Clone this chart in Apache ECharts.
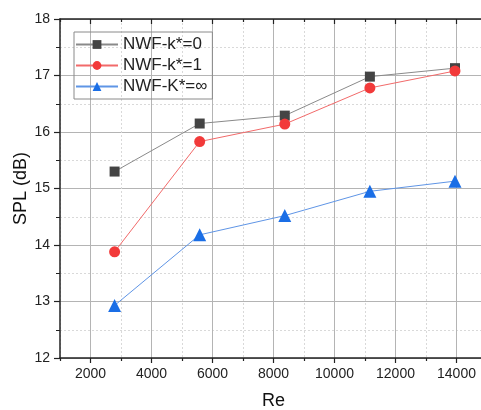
<!DOCTYPE html>
<html><head><meta charset="utf-8">
<script src="https://cdn.jsdelivr.net/npm/echarts@6/dist/echarts.min.js"></script>
<style>html,body{margin:0;padding:0;background:#fff}#c{width:481px;height:410px}</style>
</head><body><div id="c"></div>
<script>
const re = [2790, 5580, 8370, 11160, 13950];
const k0 = [15.30, 16.15, 16.29, 16.98, 17.13];
const k1 = [13.88, 15.83, 16.14, 16.78, 17.08];
const kInf = [12.93, 14.18, 14.52, 14.95, 15.13];
const names = ['NWF-k*=0', 'NWF-k*=1', 'NWF-K*=∞'];
const xTicks = [2000, 4000, 6000, 8000, 10000, 12000, 14000];
const xMinorTicks = [1000, 3000, 5000, 7000, 9000, 11000, 13000, 15000];
const xMin = 1000, xMax = 15000;
const yMin = 12, yMax = 18, yStep = 1;

const pair = (ys) => re.map((x, i) => [x, ys[i]]);
const font = 'Liberation Sans, Arial, sans-serif';
const chart = echarts.init(document.getElementById('c'));
const axisLine = { show: true, lineStyle: { color: '#222', width: 1.5 } };
const splitLine = { show: true, lineStyle: { color: '#b4b4b4', width: 1 } };
const minorLineStyle = { color: '#d9d9d9', width: 1, type: [2, 2] };
const tickStyle = { color: '#222', width: 1.2 };
chart.setOption({
  animation: false,
  backgroundColor: '#fff',
  grid: { left: 60, top: 19, width: 427, height: 339, containLabel: false, outerBoundsMode: 'none' },
  legend: {
    left: 74, top: 32, orient: 'vertical',
    data: names,
    itemWidth: 42, itemHeight: 11, itemGap: 4,
    borderColor: '#8a8a8a', borderWidth: 1, padding: [4, 5, 4, 1],
    textStyle: { fontFamily: font, fontSize: 17, color: '#222' }
  },
  xAxis: [{
    type: 'value', min: xMin, max: xMax, interval: 1000,
    name: 'Re', nameLocation: 'middle', nameGap: 34, nameMoveOverlap: false,
    nameTextStyle: { fontFamily: font, fontSize: 18, color: '#111' },
    axisLine: axisLine,
    axisTick: { show: true, inside: false, length: 5, lineStyle: tickStyle, customValues: xTicks },
    axisLabel: { fontFamily: font, fontSize: 14, color: '#222', margin: 9, customValues: xTicks,
      formatter: v => String(v) },
    splitLine: splitLine
  }, {
    type: 'value', min: xMin, max: xMax, interval: 1000, position: 'bottom',
    axisLine: { show: false },
    axisTick: { show: true, inside: false, length: 3, lineStyle: tickStyle, customValues: xMinorTicks },
    axisLabel: { show: false },
    splitLine: { show: true, lineStyle: minorLineStyle }
  }, {
    type: 'value', position: 'top', min: xMin, max: xMax, interval: 1000,
    axisLine: axisLine,
    axisTick: { show: true, inside: true, length: 5, lineStyle: tickStyle, customValues: xTicks },
    axisLabel: { show: false }, splitLine: { show: false }
  }, {
    type: 'value', position: 'top', min: xMin, max: xMax, interval: 1000,
    axisLine: { show: false },
    axisTick: { show: true, inside: true, length: 3, lineStyle: tickStyle, customValues: xMinorTicks },
    axisLabel: { show: false }, splitLine: { show: false }
  }],
  yAxis: {
    type: 'value', min: yMin, max: yMax, interval: yStep,
    name: 'SPL (dB)', nameLocation: 'middle', nameGap: 30, nameMoveOverlap: false,
    nameTextStyle: { fontFamily: font, fontSize: 18, color: '#111' },
    axisLine: axisLine,
    axisTick: { show: true, inside: false, length: 6, lineStyle: tickStyle },
    minorTick: { show: true, splitNumber: 2, length: 4, lineStyle: { color: '#222' } },
    axisLabel: { fontFamily: font, fontSize: 14, color: '#222', margin: 10 },
    splitLine: splitLine, minorSplitLine: { show: true, lineStyle: minorLineStyle }
  },
  series: [
    { name: names[0], type: 'line', data: pair(k0), symbol: 'rect', symbolSize: 10,
      itemStyle: { color: '#444' }, lineStyle: { color: '#8a8a8a', width: 1 } },
    { name: names[1], type: 'line', data: pair(k1), symbol: 'circle', symbolSize: 11,
      itemStyle: { color: '#f23a3a' }, lineStyle: { color: '#f26a6a', width: 1 } },
    { name: names[2], type: 'line', data: pair(kInf), symbol: 'triangle', symbolSize: 13,
      itemStyle: { color: '#1a6ee6' }, lineStyle: { color: '#5f95e6', width: 1 } }
  ]
});
</script></body></html>
